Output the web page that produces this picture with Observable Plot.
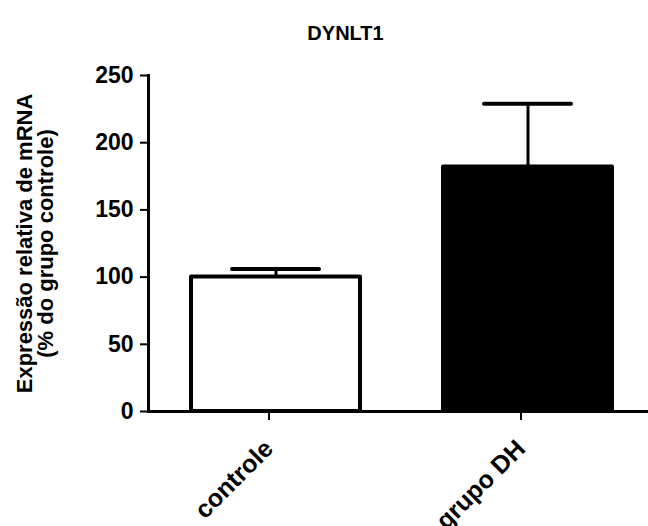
<!DOCTYPE html>
<html>
<head>
<meta charset="utf-8">
<script src="https://cdn.jsdelivr.net/npm/d3@7"></script>
<script src="https://cdn.jsdelivr.net/npm/@observablehq/plot@0.6"></script>
<style>
  body { margin: 0; background: #fff; }
  #chart svg { display: block; }
</style>
</head>
<body>
<div id="chart"></div>
<script>
const title = "DYNLT1";
const categories = ["controle", "grupo DH"];
const means = [100, 182];
const errors = [6, 47];
const fills = ["#ffffff", "#000000"];
const yTicks = [0, 50, 100, 150, 200, 250];
const yLabelLines = ["Expressão relativa de mRNA", "(% do grupo controle)"];

const data = categories.map((c, i) => ({cat: c, mean: means[i], err: errors[i], top: means[i] + errors[i], fill: fills[i]}));

const font = "Arial, 'Liberation Sans', sans-serif";

const chart = Plot.plot({
  width: 648,
  height: 526,
  marginLeft: 148,
  marginRight: 0,
  marginTop: 75,
  marginBottom: 115,
  style: {fontFamily: font, background: "#fff", color: "#000"},
  x: {domain: categories, range: [148, 654], paddingInner: 0.33, paddingOuter: 0.166, label: null},
  y: {domain: [0, 250], label: null},
  marks: [
    Plot.ruleX(data, {x: "cat", y1: "mean", y2: "top", stroke: "#000", strokeWidth: 3}),
    Plot.tickY(data, {x: "cat", y: "top", stroke: "#000", strokeWidth: 4, strokeLinecap: "round", insetLeft: 41, insetRight: 41}),
    Plot.barY(data, {x: "cat", y: "mean", fill: d => d.fill, stroke: "#000", strokeWidth: 4, strokeLinejoin: "round"}),
    Plot.frame({anchor: "left", stroke: "#000", strokeWidth: 3}),
    Plot.frame({anchor: "bottom", stroke: "#000", strokeWidth: 3}),
    Plot.axisY({ticks: yTicks, tickSize: 8, tickPadding: 7, strokeWidth: 2, fontSize: 23, fontWeight: "bold", fill: "#000", label: null}),
    Plot.axisX({tickSize: 9, tickPadding: 24, dx: -7, strokeWidth: 2, tickRotate: -45, fontSize: 25, fontWeight: "bold", fill: "#000", label: null}),
    Plot.text([yLabelLines.join("\n")], {frameAnchor: "left", text: d => d, rotate: -90, dx: -113, lineHeight: 0.95, fontSize: 22, fontWeight: "bold", fill: "#000", textAnchor: "middle"}),
    Plot.text([title], {frameAnchor: "top", text: d => d, dx: -53, dy: -50, fontSize: 20, fontWeight: "bold", fill: "#000"})
  ]
});
document.getElementById("chart").appendChild(chart);
</script>
</body>
</html>
